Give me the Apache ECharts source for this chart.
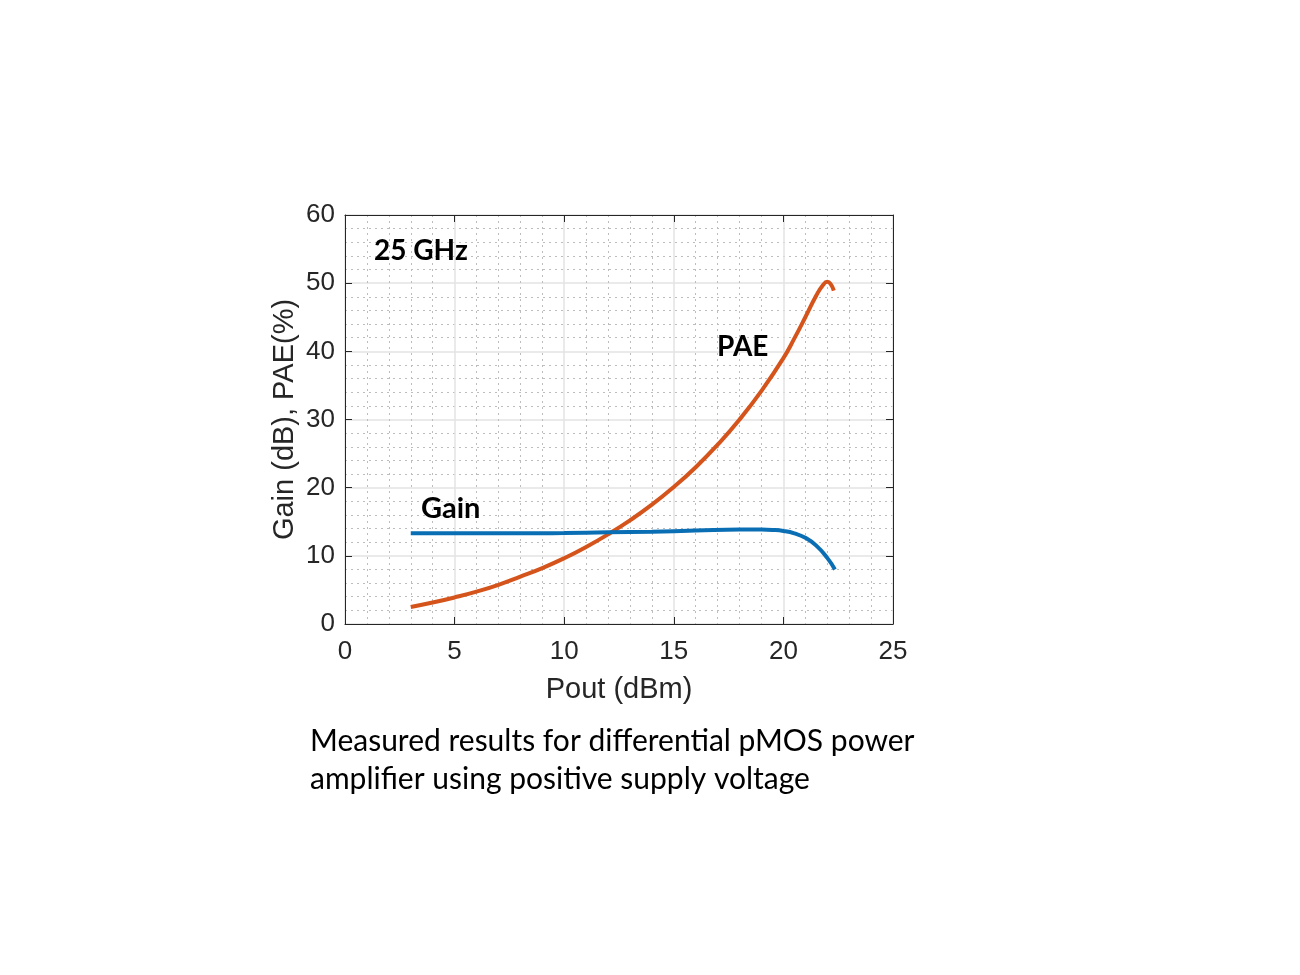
<!DOCTYPE html>
<html>
<head>
<meta charset="utf-8">
<script src="https://cdn.jsdelivr.net/npm/echarts@6/dist/echarts.min.js"></script>
<style>
html,body{margin:0;padding:0;background:#fff;}
#chart{width:1300px;height:975px;}
</style>
</head>
<body>
<div id="chart"></div>
<script>
// Data
var paeX = [3, 4, 5, 6, 7, 8, 9, 10, 11, 12, 13, 14, 15, 16, 17, 18, 19, 20, 20.5, 21, 21.5, 21.8, 22.0, 22.15, 22.3];
var paeY = [2.5, 3.15, 3.9, 4.75, 5.75, 6.95, 8.2, 9.65, 11.3, 13.15, 15.2, 17.5, 20.1, 23.0, 26.3, 30.0, 34.2, 39.0, 41.9, 45.0, 48.2, 49.7, 50.2, 49.9, 48.9];
var gainX = [3, 8, 10, 12, 14, 16, 18, 19, 19.5, 20, 20.5, 21, 21.5, 22.0, 22.35];
var gainY = [13.3, 13.3, 13.35, 13.45, 13.55, 13.7, 13.85, 13.85, 13.8, 13.65, 13.3, 12.65, 11.5, 9.7, 8.0];
var xTicks = [0, 5, 10, 15, 20, 25];
var yTicks = [0, 10, 20, 30, 40, 50, 60];

function pairs(xs, ys){ return xs.map(function(x,i){ return [x, ys[i]]; }); }

var chart = echarts.init(document.getElementById('chart'));
var axisFont = 'Liberation Sans, Arial, sans-serif';
var boxColor = '#262626';
var baseX = {
  type: 'value', min: xTicks[0], max: xTicks[xTicks.length-1], interval: 5,
  axisLine: {show: true, onZero: false, lineStyle: {color: boxColor, width: 1}},
  axisTick: {show: true, inside: true, length: 7, lineStyle: {color: boxColor}},
  minorTick: {show: false, splitNumber: 5},
  splitLine: {show: false},
  minorSplitLine: {show: false}
};
var baseY = {
  type: 'value', min: yTicks[0], max: yTicks[yTicks.length-1], interval: 10,
  axisLine: {show: true, onZero: false, lineStyle: {color: boxColor, width: 1}},
  axisTick: {show: true, inside: true, length: 7, lineStyle: {color: boxColor}},
  minorTick: {show: false, splitNumber: 5},
  splitLine: {show: false},
  minorSplitLine: {show: false}
};

var option = {
  backgroundColor: '#ffffff',
  animation: false,
  grid: {left: 345, top: 215, width: 548, height: 409, containLabel: false},
  xAxis: [
    Object.assign({}, baseX, {
      position: 'bottom',
      name: 'Pout (dBm)', nameLocation: 'middle', nameGap: 51,
      nameTextStyle: {fontFamily: axisFont, fontSize: 29, color: '#262626'},
      axisLabel: {fontFamily: axisFont, fontSize: 26, color: '#262626', margin: 15},
      splitLine: {show: true, lineStyle: {color: '#e3e3e3', width: 1.5}},
      minorSplitLine: {show: true, lineStyle: {color: '#bdbdbd', width: 1, type: [2, 4]}}
    }),
    Object.assign({}, baseX, {position: 'top', axisLabel: {show: false}})
  ],
  yAxis: [
    Object.assign({}, baseY, {
      position: 'left',
      name: 'Gain (dB), PAE(%)', nameLocation: 'middle', nameGap: 46,
      nameTextStyle: {fontFamily: axisFont, fontSize: 29, color: '#262626'},
      axisLabel: {fontFamily: axisFont, fontSize: 26, color: '#262626', margin: 10},
      splitLine: {show: true, lineStyle: {color: '#e3e3e3', width: 1.5}},
      minorSplitLine: {show: true, lineStyle: {color: '#bdbdbd', width: 1, type: [2, 4]}}
    }),
    Object.assign({}, baseY, {position: 'right', axisLabel: {show: false}})
  ],
  series: [
    {
      name: 'PAE', type: 'line', xAxisIndex: 0, yAxisIndex: 0,
      data: pairs(paeX, paeY), smooth: 0.5, showSymbol: false, symbol: 'none',
      lineStyle: {color: '#D4541C', width: 4}
    },
    {
      name: 'Gain', type: 'line', xAxisIndex: 0, yAxisIndex: 0,
      data: pairs(gainX, gainY), smooth: 0.5, showSymbol: false, symbol: 'none',
      lineStyle: {color: '#0A6EB4', width: 4}
    }
  ],
  graphic: [
    {type: 'text', z: 100, left: 374, top: 237, style: {text: '25 GHz', font: 'bold 28px Lato, "Open Sans", sans-serif', fill: '#000'}},
    {type: 'text', z: 100, left: 717, top: 333, style: {text: 'PAE', font: 'bold 28px Lato, "Open Sans", sans-serif', fill: '#000'}},
    {type: 'text', z: 100, left: 421, top: 494, style: {text: 'Gain', font: 'bold 29px Lato, "Open Sans", sans-serif', fill: '#000'}},
    {type: 'text', z: 100, left: 310, top: 722, style: {text: 'Measured results for differential pMOS power\namplifier using positive supply voltage', font: '30px Lato, "Open Sans", sans-serif', fill: '#000', lineHeight: 38}}
  ]
};
chart.setOption(option);
</script>
</body>
</html>
